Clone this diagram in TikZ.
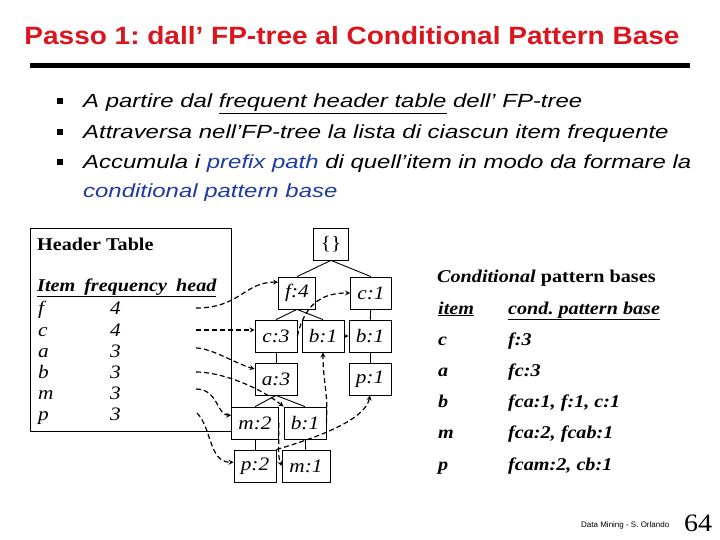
\documentclass[tikz,border=0pt]{standalone}
\usepackage{fontspec}
\setmainfont{Liberation Serif}[FakeStretch=1.12]
\newfontfamily\titlefont{Liberation Sans}[FakeStretch=1.12]
\newfontfamily\bulletfont{Liberation Sans}[FakeStretch=1.26]
\newfontfamily\arialfont{Liberation Sans}
\definecolor{titlered}{RGB}{220,20,30}
\definecolor{textblue}{RGB}{30,60,160}
\newcommand{\fsz}[1]{\fontsize{#1}{#1}\selectfont}
\frenchspacing

\begin{document}
\begin{tikzpicture}[x=1pt, y=-1pt, >=stealth,
  every node/.style={inner sep=0pt, font=\fsz{18}},
  cell/.style={draw, line width=0.8pt, minimum width=42, minimum height=32, font=\itshape\fsz{19}},
  link/.style={->, line width=1.2pt, dash pattern=on 5pt off 3pt},
  branch/.style={line width=0.9pt},
  bul/.style={fill=black, minimum size=6pt},
  bullettext/.style={anchor=base west, font=\bulletfont\itshape\fsz{19}}]
 \useasboundingbox[fill=white] (0,0) rectangle (720,540);
 \node[anchor=base, text=titlered, font=\titlefont\bfseries\fsz{25}] (title) at (352,45) {Passo 1: dall’ FP-tree al Conditional Pattern Base};
 \draw[line width=5pt] (30,66) -- (690,66);
 \node[bul] (bul1) at (60,101) {};
 \node[bul] (bul2) at (60,132) {};
 \node[bul] (bul3) at (60,162) {};
 \node[bullettext] (line1) at (83,108) {A partire dal \underline{frequent header table} dell’ FP-tree};
 \node[bullettext] (line2) at (83,139) {Attraversa nell’FP-tree la lista di ciascun item frequente};
 \node[bullettext] (line3) at (83,169) {Accumula i \textcolor{textblue}{prefix path} di quell’item in modo da formare la};
 \node[bullettext, text=textblue] (line4) at (83,197) {conditional pattern base};

 \draw[line width=0.8pt] (30,228) rectangle (231,431);
 \node[anchor=base west, font=\bfseries\fsz{18}] (htitle) at (37,250) {Header Table};
 \node[anchor=base west, font=\bfseries\itshape\fsz{18}] (hhead) at (37,291) {\underline{Item\hspace{9pt}frequency\hspace{9pt}head}};
 \foreach \it/\fr/\y in {f/4/314, c/4/336, a/3/357, b/3/378, m/3/399, p/3/420} {
  \node[anchor=base west, font=\itshape\fsz{19}] (item\it) at (38,\y) {\it};
  \node[anchor=base west, font=\itshape\fsz{19}] (freq\it) at (110,\y) {\fr};
 }
 \coordinate (hf) at (196,308);
 \coordinate (hc) at (196,330);
 \coordinate (ha) at (196,348);
 \coordinate (hb) at (196,372);
 \coordinate (hm) at (196,389);
 \coordinate (hp) at (197,413);

 \node[cell, minimum width=35] (root) at (331,244) {\upshape\{\}};
 \node[cell, minimum width=37] (f4) at (297,293) {f:4};
 \node[cell, minimum width=41] (c1) at (371,293) {c:1};
 \node[cell] (c3) at (276,336) {c:3};
 \node[cell] (b1m) at (323,336) {b:1};
 \node[cell] (b1r) at (370,336) {b:1};
 \node[cell] (a3) at (276,379) {a:3};
 \node[cell] (p1) at (370,379) {p:1};
 \node[cell, minimum width=47] (m2) at (255,423) {m:2};
 \node[cell] (b1c) at (305,423) {b:1};
 \node[cell] (p2) at (255,466) {p:2};
 \node[cell, minimum width=48] (m1) at (306,466) {m:1};

 \draw[branch] (root.south) -- (f4.north);
 \draw[branch] (root.south) -- (c1.north);
 \draw[branch] (f4.south) -- (c3.north);
 \draw[branch] (f4.south) -- (b1m.north);
 \draw[branch] (c1) -- (b1r);
 \draw[branch] (b1r) -- (p1);
 \draw[branch] (c3) -- (a3);
 \draw[branch] (a3.south) -- (m2.north);
 \draw[branch] (a3.south) -- (b1c.north);
 \draw[branch] (m2) -- (p2);
 \draw[branch] (b1c) -- (m1);
 \draw[branch, ->] (b1m) -- (b1r);

 \draw[link] (hf) .. controls +(44,0) and +(-34,0) .. (f4.150);
 \draw[link] (hc) -- (hc -| c3.west);
 \draw[link] (ha) .. controls +(15,0) and +(-20,-6) .. (a3.155);
 \draw[link] (hb) .. controls +(25,0) and +(-25,-20) .. (b1c.north west);
 \draw[link] (hm) .. controls +(22,0) and +(-14,0) .. (m2.162);
 \draw[link] (hp) .. controls +(15,15) and +(-25,0) .. (p2.170);
 \draw[link] (c3.east) .. controls +(8,-35) and +(-25,0) .. (c1.west);
 \draw[link] (b1c.east) .. controls +(2,-30) and +(0,30) .. (b1m.south);
 \draw[link] (m2.east) .. controls +(0,25) and +(-4,-10) .. (m1.west);
 \draw[link] (p2.north east) .. controls +(40,-12) and +(-5,25) .. (p1.south);

 \node[anchor=base west, font=\bfseries\fsz{18}] (ctitle) at (437,282) {\textit{Conditional} pattern bases};
 \node[anchor=base west, font=\bfseries\itshape\fsz{18}] (citem) at (438,314) {\underline{item}};
 \node[anchor=base west, font=\bfseries\itshape\fsz{18}] (cbase) at (508,314) {\underline{cond. pattern base}};
 \foreach \it/\pb/\y in {c/f:3/345, a/fc:3/376, b/{fca:1, f:1, c:1}/407, m/{fca:2, fcab:1}/438, p/{fcam:2, cb:1}/470} {
  \node[anchor=base west, font=\bfseries\itshape\fsz{18}] (cit\it) at (438,\y) {\it};
  \node[anchor=base west, font=\bfseries\itshape\fsz{18}] (cpb\it) at (508,\y) {\pb};
 }

 \node[anchor=base west, font=\arialfont\fsz{8}] (foot) at (581,527) {Data Mining - S. Orlando};
 \node[anchor=base, font=\fsz{25}] (pagenum) at (698,531) {64};
\end{tikzpicture}
\end{document}
